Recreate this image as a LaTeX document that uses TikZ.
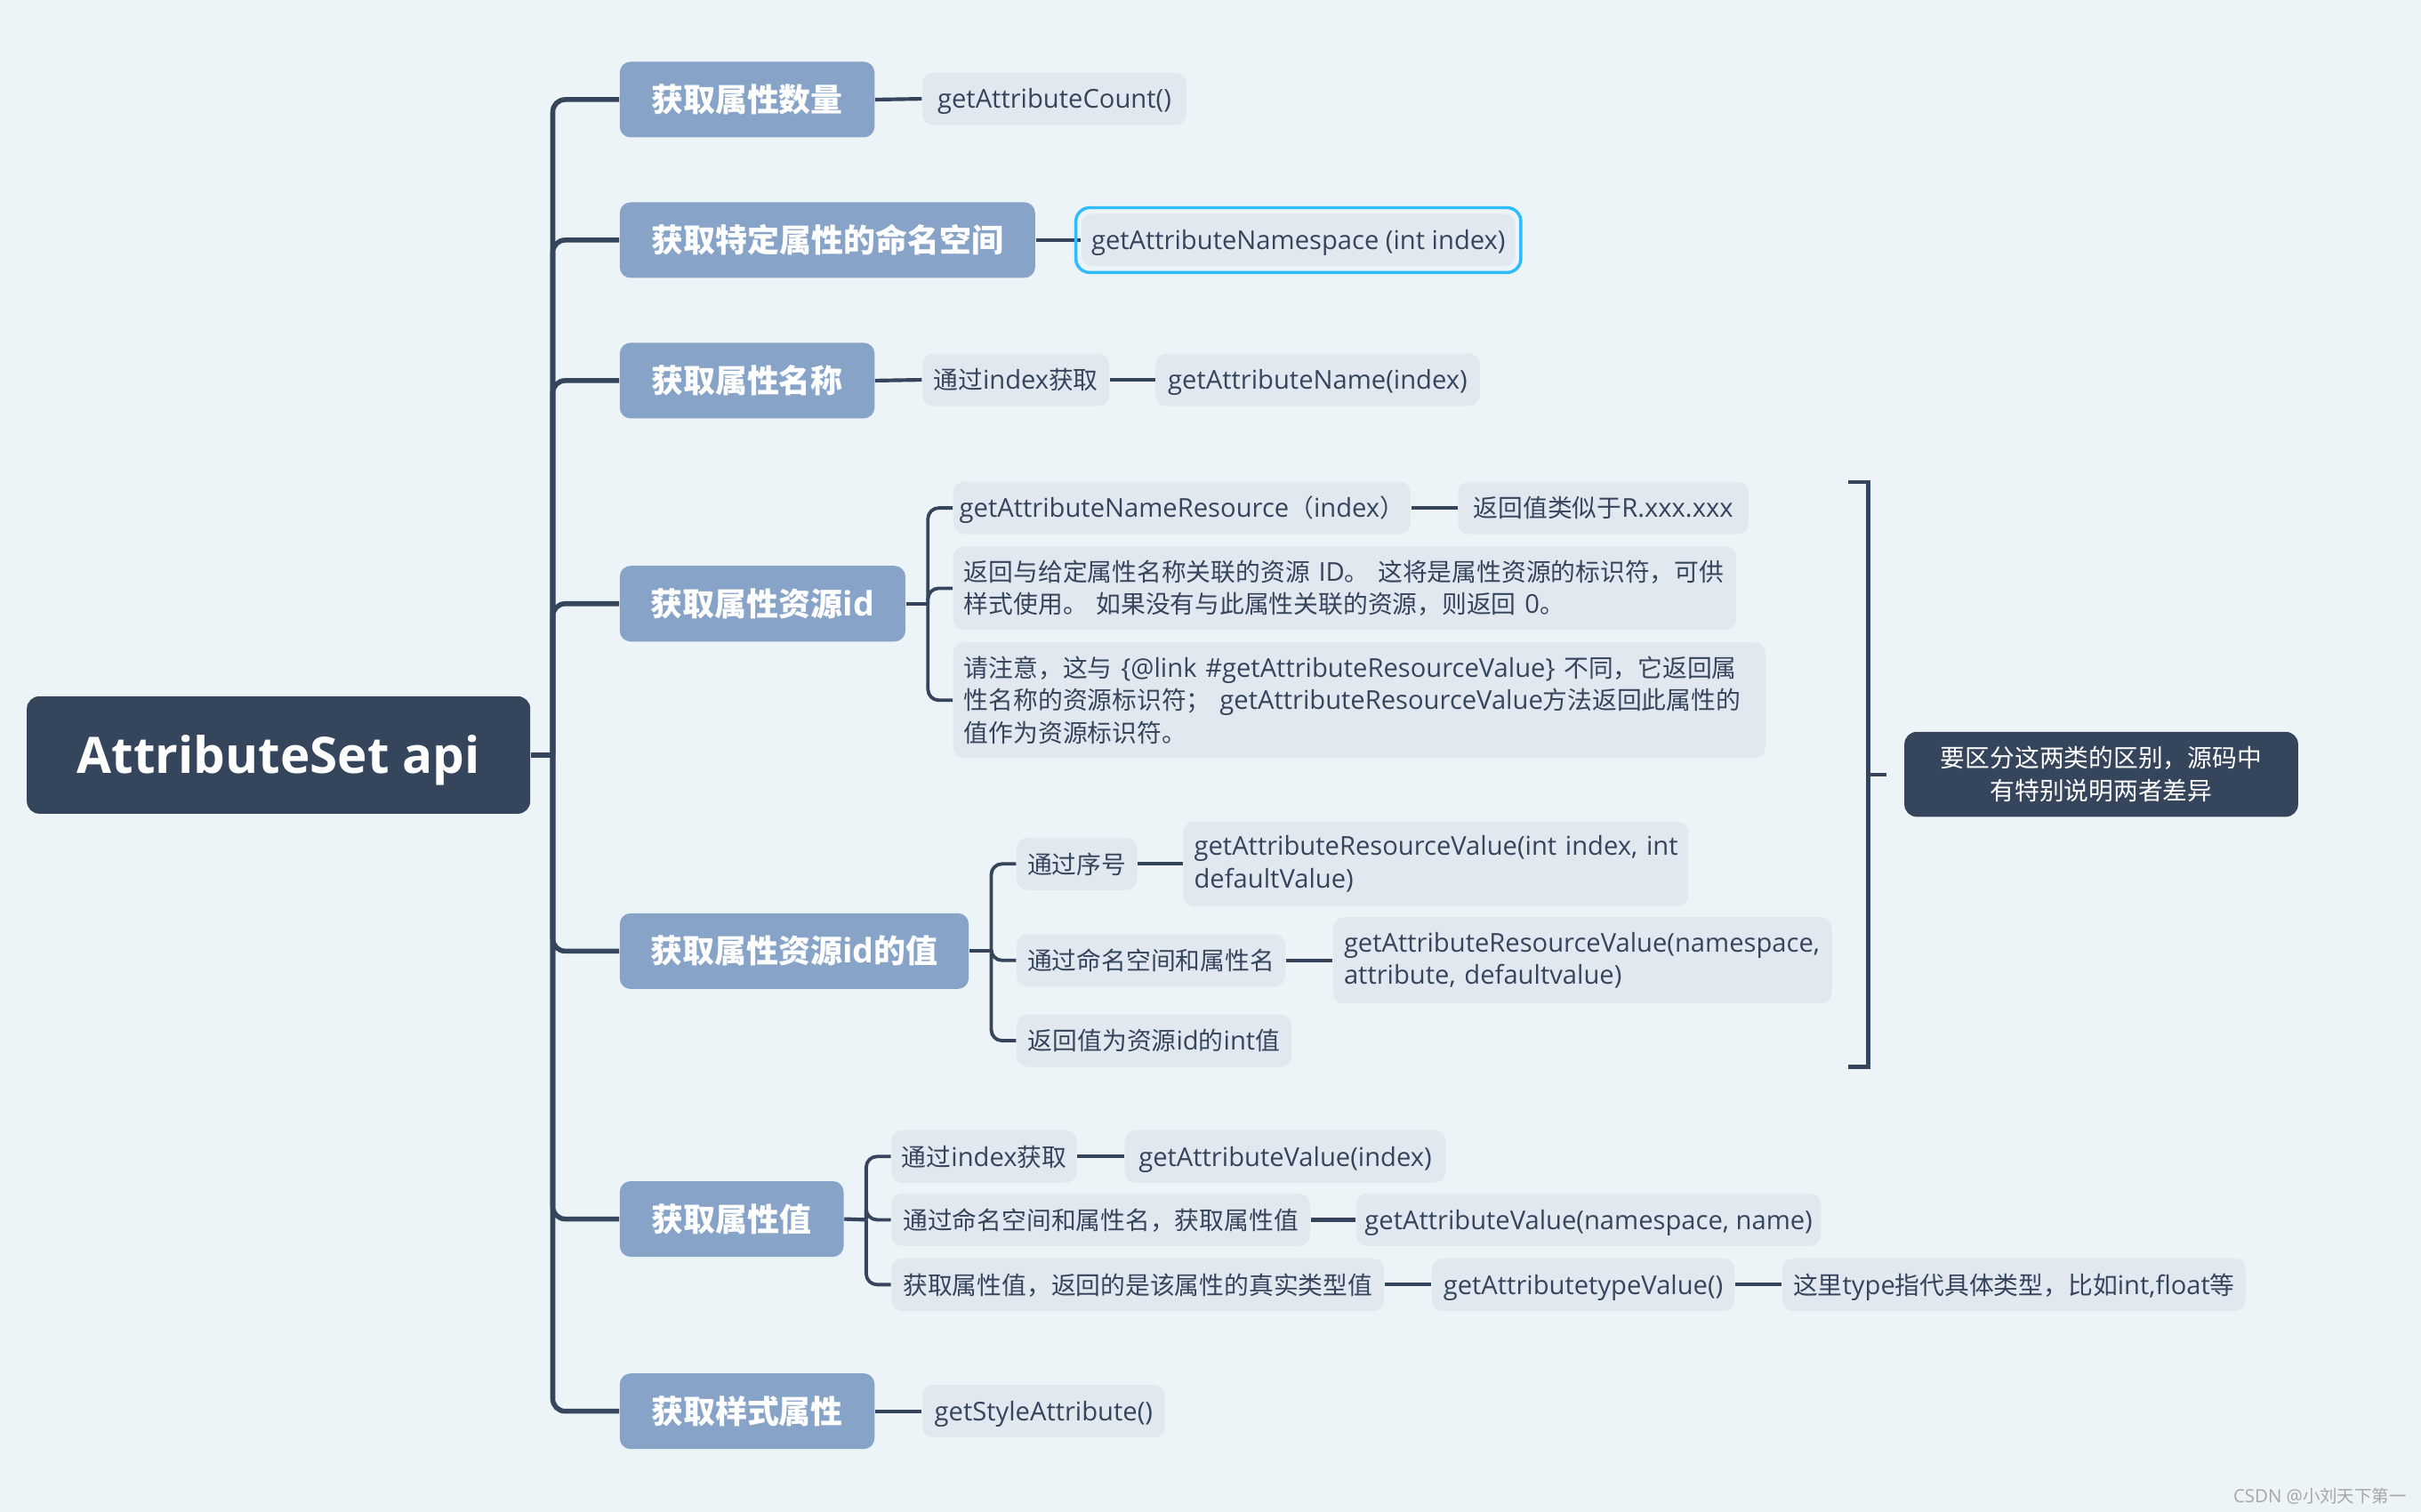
\documentclass[tikz,border=0pt]{standalone}
\usepackage{fontspec}
\setmainfont{Open Sans}[Scale=1.05]
\newfontfamily\zhfont{Noto Sans CJK SC}
\newcommand\zh[1]{{\zhfont #1}}
\definecolor{bgc}{HTML}{EDF4F8}
\definecolor{darkc}{HTML}{35455C}
\definecolor{l1c}{HTML}{87A3C8}
\definecolor{leafc}{HTML}{E1E8F0}
\definecolor{hlc}{HTML}{2DBCFF}
\definecolor{wmc}{HTML}{A6A6A6}
\tikzset{
  l1/.style={anchor=west, fill=l1c, text=white, font=\bfseries\fontsize{10.35}{12}\selectfont, minimum height=24.5pt, rounded corners=3.5pt, inner xsep=2pt},
  leafbase/.style={anchor=west, fill=leafc, text=darkc, font=\fontsize{8}{10.5}\selectfont, minimum height=17pt, rounded corners=3.5pt, inner xsep=2pt, inner ysep=2pt},
  leaf/.style={leafbase, text height=7.6pt, text depth=1.4pt},
  mleaf/.style={leafbase, align=left, inner xsep=3.5pt},
  trunk/.style={draw=darkc, line width=1.6pt, rounded corners=4pt},
  link/.style={draw=darkc, line width=1.2pt},
  sub/.style={draw=darkc, line width=1.1pt, rounded corners=3.5pt},
  bracketline/.style={draw=darkc, line width=1.2pt},
  hlbox/.style={draw=hlc, line width=1pt, rounded corners=4.5pt},
}
\begin{document}
\begin{tikzpicture}[x=0.5pt,y=-0.5pt]
\useasboundingbox (0,0) rectangle (1568,979);
\fill[bgc] (0,0) rectangle (1568,979);

% root
\node[anchor=west, fill=darkc, text=white, font=\bfseries\fontsize{15.5}{18}\selectfont, minimum width=163pt, minimum height=38pt, rounded corners=4pt, text height=11.6pt, text depth=0pt] (root) at (17,489) {AttributeSet api};

% level 1
\node[l1, minimum width=82.5pt] (n1) at (401,64.5) {\zh{获取属性数量}};
\node[l1, minimum width=134.5pt] (n2) at (401,155.5) {\zh{获取特定属性的命名空间}};
\node[l1, minimum width=82.5pt] (n3) at (401,246.5) {\zh{获取属性名称}};
\node[l1, minimum width=92.5pt] (n4) at (401,391) {\zh{获取属性资源}id};
\node[l1, minimum width=113pt] (n5) at (401,616) {\zh{获取属性资源}id\zh{的值}};
\node[l1, minimum width=72.5pt] (n6) at (401,789.5) {\zh{获取属性值}};
\node[l1, minimum width=82.5pt] (n7) at (401,914) {\zh{获取样式属性}};

% trunk
\coordinate (T) at (358,489);
\draw[trunk] (root.east) -- (T);
\foreach \n in {n1,n2,n3,n4,n5,n6,n7} {\draw[trunk] (T) |- (\n.west);}

% leaves of n1..n3
\node[leaf, minimum width=85.5pt] (a1) at (597,64) {getAttributeCount()};
\node[leaf, minimum width=140.5pt] (a2) at (700,155.5) {getAttributeNamespace (int index)};
\node[leaf, minimum width=60.5pt] (a3) at (597,246) {\zh{通过}index\zh{获取}};
\node[leaf, minimum width=105pt] (a3b) at (748,246) {getAttributeName(index)};
\draw[link] (n1.east) -- (a1.west);
\draw[link] (n2.east) -- (a2.west);
\draw[hlbox] ([xshift=-1.6pt,yshift=-1.8pt]a2.south west) rectangle ([xshift=1.6pt,yshift=1.8pt]a2.north east);
\draw[link] (n3.east) -- (a3.west);
\draw[link] (a3.east) -- (a3b.west);

% n4 children
\node[leaf, minimum width=148pt] (b1) at (617,329) {getAttributeNameResource\zh{（}index\zh{）}};
\node[leaf, minimum width=94pt] (b1b) at (944,329) {\zh{返回值类似于}R.xxx.xxx};
\node[mleaf, text width=246.5pt, minimum height=27pt] (b2) at (617,381) {\mbox{\zh{返回与给定属性名称关联的资源} ID\zh{。} \zh{这将是属性资源的标识符，可供}}\\\mbox{\zh{样式使用。} \zh{如果没有与此属性关联的资源，则返回} 0\zh{。}}};
\node[mleaf, text width=256pt, minimum height=37.5pt] (b3) at (617,453.5) {\mbox{\zh{请注意，这与} \{@link \#getAttributeResourceValue\} \zh{不同，它返回属}}\\\mbox{\zh{性名称的资源标识符；} getAttributeResourceValue\zh{方法返回此属性的}}\\\mbox{\zh{值作为资源标识符。}}};
\coordinate (J4) at (601,391);
\draw[link] (n4.east) -- (J4);
\draw[sub] (J4) |- (b1.west);
\draw[sub] (J4) |- (b2.west);
\draw[sub] (J4) |- (b3.west);
\draw[link] (b1.east) -- (b1b.west);

% n5 children
\node[leaf, minimum width=39pt] (c1) at (658,559.5) {\zh{通过序号}};
\node[mleaf, text width=156.5pt, minimum height=27.5pt] (c1b) at (766,559.5) {\mbox{getAttributeResourceValue(int index, int}\\\mbox{defaultValue)}};
\node[leaf, minimum width=87pt] (c2) at (658,622) {\zh{通过命名空间和属性名}};
\node[mleaf, text width=154.5pt, minimum height=28pt] (c2b) at (863,622) {\mbox{getAttributeResourceValue(namespace,}\\\mbox{attribute, defaultvalue)}};
\node[leaf, minimum width=89pt] (c3) at (658,674) {\zh{返回值为资源}id\zh{的}int\zh{值}};
\coordinate (J5) at (642,616);
\draw[link] (n5.east) -- (J5);
\draw[sub] (J5) |- (c1.west);
\draw[sub] (J5) |- (c2.west);
\draw[sub] (J5) |- (c3.west);
\draw[link] (c1.east) -- (c1b.west);
\draw[link] (c2.east) -- (c2b.west);

% n6 children
\node[leaf, minimum width=60pt] (d1) at (577,749) {\zh{通过}index\zh{获取}};
\node[leaf, minimum width=104pt] (d1b) at (728,749) {getAttributeValue(index)};
\node[leaf, minimum width=135.5pt] (d2) at (577,790) {\zh{通过命名空间和属性名，获取属性值}};
\node[leaf, minimum width=150.5pt] (d2b) at (878,790) {getAttributeValue(namespace, name)};
\node[leaf, minimum width=159.5pt] (d3) at (577,832) {\zh{获取属性值，返回的是该属性的真实类型值}};
\node[leaf, minimum width=98pt] (d3b) at (927,832) {getAttributetypeValue()};
\node[leaf, minimum width=150pt] (d3c) at (1154,832) {\zh{这里}type\zh{指代具体类型，比如}int,float\zh{等}};
\coordinate (J6) at (561,790);
\draw[link] (n6.east) -- (J6);
\draw[sub] (J6) |- (d1.west);
\draw[sub] (J6) |- (d2.west);
\draw[sub] (J6) |- (d3.west);
\draw[link] (d1.east) -- (d1b.west);
\draw[link] (d2.east) -- (d2b.west);
\draw[link] (d3.east) -- (d3b.west);
\draw[link] (d3b.east) -- (d3c.west);

% n7
\node[leaf, minimum width=78.5pt] (e1) at (597,914) {getStyleAttribute()};
\draw[link] (n7.east) -- (e1.west);

% summary bracket and note
\node[anchor=west, fill=darkc, text=white, font=\fontsize{8}{10.5}\selectfont, align=center, minimum width=127.5pt, minimum height=27.5pt, rounded corners=4pt] (note) at (1233,501.5) {\zh{要区分这两类的区别，源码中}\\\zh{有特别说明两者差异}};
\coordinate (BT) at (1197,312);
\coordinate (BTR) at (1210,312);
\coordinate (BBR) at (1210,691);
\coordinate (BB) at (1197,691);
\coordinate (BM) at (1210,501.5);
\coordinate (BME) at (1222,501.5);
\draw[bracketline] (BT) -- (BTR) -- (BBR) -- (BB);
\draw[bracketline] (BM) -- (BME);

% watermark
\node[anchor=east, text=wmc, font=\fontsize{5.6}{6}\selectfont, inner sep=0pt] (wm) at (1559,969) {CSDN @\zh{小刘天下第一}};
\end{tikzpicture}
\end{document}
